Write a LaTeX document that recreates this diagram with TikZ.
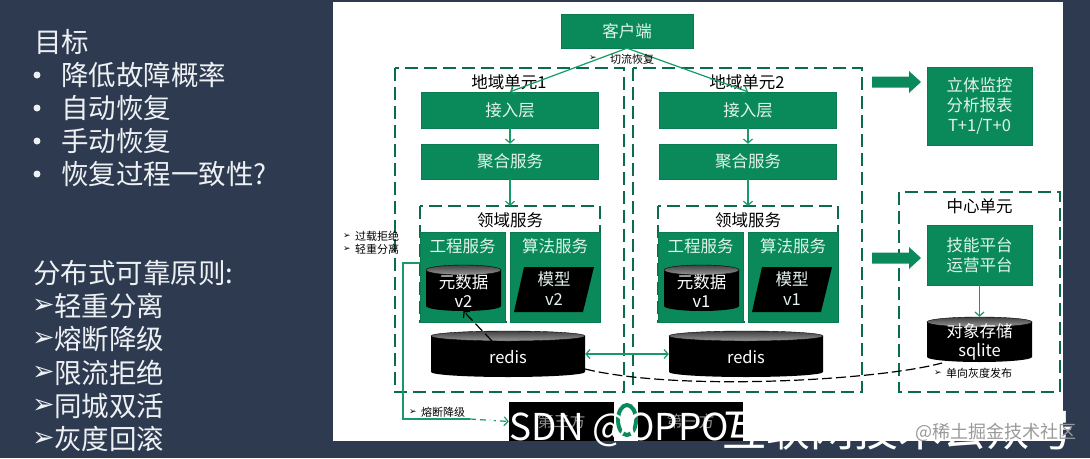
\documentclass[tikz,border=0pt]{standalone}
\usepackage{fontspec}
\setmainfont{Noto Sans CJK SC}
\newfontfamily\symfont{DejaVu Sans}
\usetikzlibrary{arrows.meta,positioning}
\definecolor{slidebg}{HTML}{2D3A50}
\definecolor{boxgreen}{HTML}{0A8A5A}
\definecolor{edgegreen}{HTML}{0B7A50}
\definecolor{dashgreen}{HTML}{0B6B4E}
\definecolor{linegreen}{HTML}{159A68}
\definecolor{softwhite}{HTML}{E4F4EC}
\definecolor{slidetext}{HTML}{EEF1F4}
\newcommand{\bul}{{\symfont\char"27A2}}
% name, centre x, top y, bottom y, x radius, text, text y
\newcommand{\storecyl}[7]{
    \fill[black] ({#2-#5},{#3+5}) -- ({#2-#5},{#4-5}) arc[start angle=180, end angle=0, x radius=#5, y radius=5] -- ({#2+#5},{#3+5}) -- cycle;
    \path[draw=black, top color=black!75, bottom color=black!40] (#2,{#3+5}) ellipse ({#5} and 5);
    \node[inner sep=0pt, minimum width={2*#5}, minimum height={#4-#3}] (#1) at (#2,{(#3+#4)/2}) {};
    \node[text=white, align=center, font=\fontsize{16.5}{19.5}\selectfont] (#1text) at (#2,#7) {#6};
}
\tikzset{
    greenbox/.style={draw=edgegreen, fill=boxgreen, text=softwhite, inner sep=0pt, align=center, font=\fontsize{16.5}{20}\selectfont},
    unitbox/.style={draw=dashgreen, line width=1.8pt, dash pattern=on 13pt off 6pt},
    flow/.style={draw=linegreen, line width=1.2pt, -{Straight Barb[length=4pt,width=9pt]}},
    blackdash/.style={draw=black, line width=1.2pt, dash pattern=on 10pt off 4pt},
    note/.style={font=\fontsize{11}{13}\selectfont, anchor=west, inner sep=0pt},
    tick/.style={anchor=west, inner sep=0pt, font=\fontsize{9}{9}\selectfont},
    slideline/.style={text=slidetext, anchor=west, inner sep=0pt, font=\fontsize{27.5}{30}\selectfont}
}
\begin{document}
\begin{tikzpicture}[x=1pt,y=-1pt]
    \useasboundingbox (0,0) rectangle (1090,458);
    \fill[slidebg] (0,0) rectangle (1090,458);
    \fill[white] (333,2) rectangle (1063,441);

    % Left column
    \node[slideline] (goal) at (34,42) {目标};
    \foreach \i/\y/\txt in {1/75/降低故障概率,2/108/自动恢复,3/141/手动恢复,4/174/恢复过程一致性?} {
        \node[slideline] (item\i) at (61,\y) {\txt};
        \fill[slidetext] (37,\y) circle (3.5);
    }
    \node[slideline] (rule) at (33,273) {分布式可靠原则:};
    \foreach \i/\y/\txt in {1/306/轻重分离,2/339/熔断降级,3/373/限流拒绝,4/406/同城双活,5/439/灰度回滚} {
        \node[slideline] (rule\i) at (54,\y) {\txt};
        \node[slideline, font=\fontsize{27}{30}\selectfont] (mark\i) at (32,\y) {\bul};
    }

    % Client
    \node[greenbox, minimum width=132pt, minimum height=34pt] (client) at (627,31) {客户端};

    % Regional units
    \foreach \r/\dx/\ver in {1/0/2,2/238/1} {
        \draw[unitbox] ({395+\dx},68) rectangle ({624+\dx},392);
        \draw[unitbox] ({420+\dx},206) rectangle ({600+\dx},322);
        \node[font=\fontsize{16.5}{20}\selectfont] (unit\r) at ({509+\dx},82) {地域单元\r};
        \node[greenbox, minimum width=177pt, minimum height=36pt] (gate\r) at ({510+\dx},110) {接入层};
        \node[greenbox, minimum width=177pt, minimum height=35pt] (merge\r) at ({510+\dx},161.5) {聚合服务};
        \node[font=\fontsize{16.5}{20}\selectfont] (domain\r) at ({510+\dx},220) {领域服务};
        \node[greenbox, minimum width=85pt, minimum height=90pt] (eng\r) at ({462.5+\dx},277) {};
        \node[greenbox, minimum width=90pt, minimum height=90pt] (algo\r) at ({555+\dx},277) {};
        \node[text=softwhite, font=\fontsize{16.5}{20}\selectfont] (engtext\r) at ({462.5+\dx},246) {工程服务};
        \node[text=softwhite, font=\fontsize{16.5}{20}\selectfont] (algotext\r) at ({555+\dx},246) {算法服务};
        \storecyl{meta\r}{463.5+\dx}{265}{311}{37.5}{元数据\\v\ver}{291}
        \fill[black] ({514+\dx},312) -- ({524+\dx},267) -- ({594+\dx},267) -- ({583+\dx},312) -- cycle;
        \node[text=softwhite, align=center, font=\fontsize{16.5}{20}\selectfont] (model\r) at ({554+\dx},289) {模型\\v\ver};
        \storecyl{redis\r}{508+\dx}{331}{377}{77}{redis}{357}
        \draw[flow] (gate\r) -- (merge\r);
        \draw[flow] (merge\r) -- ({510+\dx},206);
        \draw[flow] (client.south) -- (gate\r.north);
    }
    \draw[flow, {Straight Barb[length=4pt,width=9pt]}-{Straight Barb[length=4pt,width=9pt]}] (redis1) -- (redis2);

    % Right column
    \node[greenbox, minimum width=105pt, minimum height=78pt] (monitor) at (979.5,106) {立体监控\\分析报表\\T+1/T+0};
    \draw[unitbox] (899,192) rectangle (1060,392);
    \node[font=\fontsize{16.5}{20}\selectfont] (center) at (979.5,206) {中心单元};
    \node[greenbox, minimum width=105pt, minimum height=60pt] (skill) at (979.5,255) {技能平台\\运营平台};
    \storecyl{object}{979.5}{317}{362}{52.5}{对象存储\\sqlite}{342}
    \draw[flow] (skill) -- (object);
    \fill[boxgreen] (872,76.5) -- (909,76.5) -- (909,71) -- (921,82) -- (909,93) -- (909,87.5) -- (872,87.5) -- cycle;
    \fill[boxgreen] (872,252.5) -- (909,252.5) -- (909,247) -- (921,258) -- (909,269) -- (909,263.5) -- (872,263.5) -- cycle;

    % Third parties
    \node[fill=black, minimum width=105pt, minimum height=39pt, inner sep=0pt, text=black!45, font=\fontsize{16}{20}\selectfont] (third1) at (561.5,421.5) {第三方};
    \node[fill=black, minimum width=105pt, minimum height=39pt, inner sep=0pt, text=black!45, font=\fontsize{16}{20}\selectfont] (third2) at (690.5,421.5) {第三方};

    % Dashed links
    \draw[blackdash, -{Straight Barb[length=4pt,width=9pt]}] (492,341) -- (meta1.south);
    \draw[blackdash] (585,369) .. controls (680,392) and (880,380) .. (942,363);
    \draw[draw=linegreen, line width=1.2pt] (eng1.west |- 0,263) -- (403,263) -- (403,419) -- (470,419);
    \draw[flow, dash pattern=on 6pt off 4pt] (470,419) -- (third1.west);

    % Notes
    \node[note] (cut) at (610,59) {切流恢复};
    \node[tick] at (589,58) {\bul};
    \node[note] (over) at (355,236) {过载拒绝};
    \node[tick] at (343,236) {\bul};
    \node[note] (split) at (355,249) {轻重分离};
    \node[tick] at (343,249) {\bul};
    \node[note] (fuse) at (421,412) {熔断降级};
    \node[tick] at (409,412) {\bul};
    \node[note] (gray) at (946,373) {单向灰度发布};
    \node[tick] at (934,373) {\bul};

    % Watermarks
    \draw[boxgreen, line width=4pt] (627,420) ellipse (9 and 15);
    \node[text=white, anchor=west, inner sep=0pt, font=\fontsize{37}{40}\selectfont] (csdn) at (487,430) {CSDN @OPPO};
    \node[text=white, anchor=west, inner sep=0pt, font=\fontsize{44}{48}\selectfont] (account) at (722,430) {互联网技术公众号};
    \node[text=black!40, anchor=west, inner sep=0pt, font=\fontsize{18}{20}\selectfont] (juejin) at (915,432) {@稀土掘金技术社区};
\end{tikzpicture}
\end{document}
